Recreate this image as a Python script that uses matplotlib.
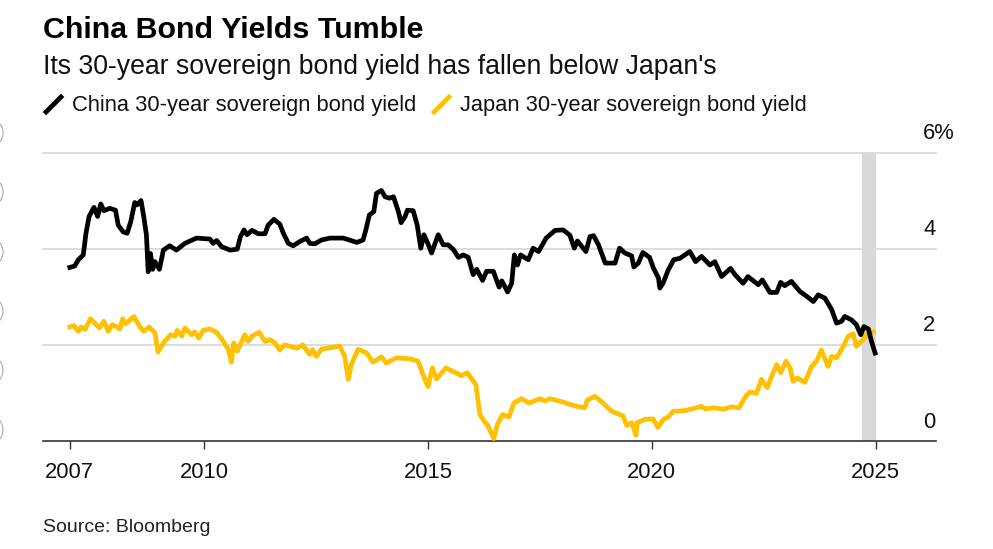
import matplotlib
matplotlib.use('Agg')
import matplotlib.pyplot as plt
from matplotlib.lines import Line2D
from matplotlib.patches import Circle

W, H = 993, 549
plt.rcParams['font.family'] = ['Liberation Sans', 'DejaVu Sans']

china_years = [2007.0, 2007.11, 2007.19, 2007.30, 2007.36, 2007.43, 2007.54, 2007.62, 2007.69, 2007.76, 2007.89,
               2008.02, 2008.08, 2008.19, 2008.28, 2008.36, 2008.45, 2008.50, 2008.59, 2008.65, 2008.71, 2008.75,
               2008.80, 2008.85, 2008.90, 2009.0, 2009.09, 2009.23, 2009.38, 2009.57, 2009.83, 2010.13, 2010.2,
               2010.28, 2010.39, 2010.58, 2010.74, 2010.81, 2010.89, 2010.96, 2011.07, 2011.21, 2011.36, 2011.43,
               2011.56, 2011.69, 2011.77, 2011.88, 2011.99, 2012.14, 2012.29, 2012.36, 2012.47, 2012.62, 2012.81,
               2013.11, 2013.41, 2013.55, 2013.61, 2013.69, 2013.79, 2013.85, 2013.96, 2014.04, 2014.14, 2014.23,
               2014.34, 2014.40, 2014.49, 2014.54, 2014.67, 2014.76, 2014.84, 2014.91, 2015.01, 2015.08, 2015.23,
               2015.34, 2015.45, 2015.57, 2015.68, 2015.79, 2015.90, 2016.01, 2016.09, 2016.22, 2016.31, 2016.46,
               2016.59, 2016.65, 2016.78, 2016.87, 2016.93, 2017.0, 2017.07, 2017.24, 2017.35, 2017.47, 2017.64,
               2017.84, 2018.02, 2018.17, 2018.27, 2018.34, 2018.53, 2018.62, 2018.70, 2018.81, 2018.96, 2019.18,
               2019.28, 2019.40, 2019.55, 2019.60, 2019.70, 2019.80, 2019.95, 2020.04, 2020.15, 2020.18, 2020.25,
               2020.37, 2020.49, 2020.63, 2020.85, 2020.98, 2021.11, 2021.30, 2021.41, 2021.56, 2021.76, 2021.86,
               2022.04, 2022.15, 2022.38, 2022.47, 2022.64, 2022.79, 2022.88, 2022.97, 2023.12, 2023.31, 2023.46,
               2023.61, 2023.72, 2023.87, 2024.02, 2024.13, 2024.24, 2024.31, 2024.46, 2024.57, 2024.67, 2024.74,
               2024.84, 2024.91, 2024.99]
china_yield = [3.61, 3.64, 3.77, 3.87, 4.32, 4.67, 4.86, 4.67, 4.93, 4.79, 4.84,
               4.80, 4.49, 4.35, 4.32, 4.56, 4.96, 4.91, 5.0, 4.67, 4.29, 3.52,
               3.90, 3.57, 3.73, 3.57, 3.97, 4.06, 3.97, 4.11, 4.22, 4.20, 4.11,
               4.17, 4.04, 3.97, 3.99, 4.25, 4.39, 4.29, 4.38, 4.31, 4.31, 4.49,
               4.61, 4.51, 4.32, 4.11, 4.06, 4.15, 4.22, 4.11, 4.10, 4.18, 4.22,
               4.22, 4.13, 4.18, 4.38, 4.70, 4.77, 5.15, 5.21, 5.08, 5.05, 5.08,
               4.77, 4.54, 4.67, 4.80, 4.79, 4.49, 4.01, 4.29, 4.08, 3.91, 4.29,
               4.08, 4.08, 3.98, 3.82, 3.87, 3.82, 3.46, 3.57, 3.34, 3.53, 3.53,
               3.20, 3.33, 3.10, 3.28, 3.87, 3.66, 3.87, 3.77, 4.01, 3.94, 4.22,
               4.38, 4.39, 4.28, 4.01, 4.16, 3.94, 4.25, 4.27, 4.08, 3.70, 3.70,
               4.01, 3.91, 3.85, 3.62, 3.70, 3.92, 3.82, 3.59, 3.39, 3.18, 3.28,
               3.56, 3.77, 3.80, 3.94, 3.73, 3.84, 3.66, 3.73, 3.42, 3.59, 3.46,
               3.28, 3.42, 3.25, 3.35, 3.09, 3.09, 3.30, 3.23, 3.32, 3.11, 3.01,
               2.90, 3.04, 2.97, 2.73, 2.45, 2.49, 2.59, 2.52, 2.42, 2.21, 2.38,
               2.33, 2.07, 1.83]

japan_years = [2007.0, 2007.09, 2007.19, 2007.25, 2007.34, 2007.46, 2007.56, 2007.66, 2007.76, 2007.86, 2007.95,
               2008.12, 2008.18, 2008.25, 2008.43, 2008.57, 2008.65, 2008.77, 2008.90, 2008.97, 2009.09, 2009.25,
               2009.35, 2009.40, 2009.50, 2009.57, 2009.72, 2009.79, 2009.88, 2009.98, 2010.13, 2010.28, 2010.43,
               2010.54, 2010.61, 2010.66, 2010.74, 2010.91, 2010.98, 2011.08, 2011.23, 2011.36, 2011.47, 2011.58,
               2011.69, 2011.80, 2012.07, 2012.20, 2012.36, 2012.42, 2012.51, 2012.62, 2012.88, 2013.03, 2013.14,
               2013.22, 2013.29, 2013.37, 2013.44, 2013.63, 2013.77, 2013.96, 2014.07, 2014.30, 2014.59, 2014.78,
               2014.89, 2015.00, 2015.10, 2015.19, 2015.40, 2015.60, 2015.75, 2015.88, 2016.07, 2016.16, 2016.26,
               2016.34, 2016.47, 2016.55, 2016.67, 2016.81, 2016.92, 2017.09, 2017.26, 2017.50, 2017.61, 2017.72,
               2018.02, 2018.24, 2018.50, 2018.56, 2018.73, 2018.91, 2019.10, 2019.36, 2019.44, 2019.55, 2019.65,
               2019.67, 2019.85, 2020.03, 2020.14, 2020.26, 2020.37, 2020.48, 2020.61, 2020.78, 2021.11, 2021.19,
               2021.41, 2021.60, 2021.78, 2021.95, 2022.10, 2022.19, 2022.34, 2022.45, 2022.58, 2022.68, 2022.79,
               2022.88, 2023.0, 2023.09, 2023.16, 2023.25, 2023.42, 2023.57, 2023.68, 2023.79, 2023.94, 2024.02,
               2024.13, 2024.28, 2024.39, 2024.50, 2024.57, 2024.72, 2024.84, 2024.95]
japan_yield = [2.37, 2.40, 2.28, 2.37, 2.32, 2.54, 2.45, 2.35, 2.49, 2.28, 2.42,
               2.33, 2.54, 2.44, 2.59, 2.37, 2.28, 2.37, 2.25, 1.85, 2.04, 2.21,
               2.18, 2.30, 2.18, 2.35, 2.21, 2.27, 2.14, 2.30, 2.33, 2.26, 2.07,
               1.90, 1.64, 2.04, 1.87, 2.21, 2.07, 2.19, 2.26, 2.07, 2.11, 2.04,
               1.89, 2.00, 1.93, 2.00, 1.80, 1.90, 1.76, 1.91, 1.95, 1.97, 1.76,
               1.28, 1.59, 1.76, 1.91, 1.83, 1.64, 1.75, 1.62, 1.73, 1.71, 1.66,
               1.38, 1.13, 1.52, 1.29, 1.52, 1.43, 1.36, 1.42, 1.17, 0.55, 0.41,
               0.32, 0.05, 0.34, 0.55, 0.50, 0.79, 0.88, 0.79, 0.88, 0.83, 0.88,
               0.81, 0.74, 0.69, 0.85, 0.93, 0.79, 0.62, 0.52, 0.32, 0.38, 0.12,
               0.38, 0.45, 0.46, 0.28, 0.45, 0.50, 0.62, 0.62, 0.64, 0.72, 0.67,
               0.69, 0.66, 0.71, 0.69, 0.93, 1.02, 0.99, 1.28, 1.11, 1.35, 1.59,
               1.42, 1.66, 1.52, 1.24, 1.31, 1.22, 1.55, 1.66, 1.89, 1.55, 1.76,
               1.73, 1.97, 2.18, 2.23, 1.97, 2.11, 2.25, 2.27]

x_ticks = [2007, 2010, 2015, 2020, 2025]
y_ticks = [0, 2, 4, 6]
y_labels = ['0', '2', '4', '6%']
band_start, band_end = 2024.69, 2025.0

BLACK = '#000000'
YELLOW = '#FFC000'
GRID = '#d9d9d9'


def fx(px):
    return px / W


def fy(py):
    return 1 - py / H


fig = plt.figure(figsize=(W / 100, H / 100), dpi=100, facecolor='white')

# axes box in pixels: left 43, right 936, y=6 at 152.5, y=0 at 441
ax = fig.add_axes([fx(43), fy(441), (936 - 43) / W, (441 - 152.5) / H])
ax.set_xlim(2006.4, 2026.35)
ax.set_ylim(0, 6)
ax.patch.set_alpha(0)

for s in ['top', 'left', 'right']:
    ax.spines[s].set_visible(False)
ax.spines['bottom'].set_color('#333333')
ax.spines['bottom'].set_linewidth(1.2)

ax.axvspan(band_start, band_end, color=GRID, lw=0, zorder=1)
for v in y_ticks[1:]:
    ax.axhline(v, color=GRID, lw=1.3, zorder=1.5, clip_on=False)

ax.plot(japan_years, japan_yield, color=YELLOW, lw=3.4, zorder=3, solid_joinstyle='round', clip_on=False)
ax.plot(china_years, china_yield, color=BLACK, lw=3.4, zorder=4, solid_joinstyle='round')

ax.set_xticks(x_ticks)
ax.set_xticklabels([str(t) for t in x_ticks], fontsize=15.8, color='#111111')
ax.tick_params(axis='x', length=6, width=1, color='#333333', pad=9)
ax.set_yticks([])

for v, lab in zip(y_ticks, y_labels):
    ax.annotate(lab, xy=(1, v), xycoords=('axes fraction', 'data'), xytext=(-13, 19),
                textcoords='offset pixels', fontsize=15.8, color='#111111', ha='left', va='center')

fig.text(fx(43), fy(30), 'China Bond Yields Tumble', fontsize=21.9, fontweight='bold', color=BLACK, va='center')
fig.text(fx(43), fy(67.5), "Its 30-year sovereign bond yield has fallen below Japan's", fontsize=19.2,
         color='#111111', va='center')

fig.text(fx(72), fy(106), 'China 30-year sovereign bond yield', fontsize=15.75, color='#111111', va='center')
fig.text(fx(460), fy(106), 'Japan 30-year sovereign bond yield', fontsize=15.75, color='#111111', va='center')
fig.add_artist(Line2D([fx(46), fx(61)], [fy(112), fy(97)], color=BLACK, lw=3.4))
fig.add_artist(Line2D([fx(434), fx(449)], [fy(112), fy(97)], color=YELLOW, lw=3.4))

fig.text(fx(43), fy(527), 'Source: Bloomberg', fontsize=14, color='#222222', va='center')

# cut-off round buttons on the left edge of the screenshot
for cy in [133, 192, 252, 311, 370, 430]:
    fig.add_artist(Circle((-12, H - cy), 15, transform=None, fill=False, edgecolor='#aaaaaa', lw=0.8))

fig.savefig('out.png', dpi=100)
